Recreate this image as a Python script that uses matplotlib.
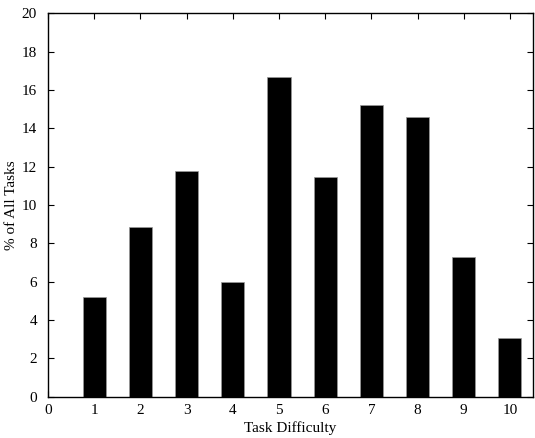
import numpy as np
import matplotlib
matplotlib.use("Agg")
import matplotlib.pyplot as plt

plt.rcParams['font.family'] = ['Liberation Serif', 'DejaVu Serif']

difficulty = [1, 2, 3, 4, 5, 6, 7, 8, 9, 10]
pct_tasks = [5.2, 8.85, 11.8, 6.0, 16.7, 11.45, 15.2, 14.6, 7.3, 3.05]

fig = plt.figure(figsize=(5.35, 4.38), dpi=100)
ax = fig.add_axes([0.0897, 0.0943, 0.9066, 0.8753])

ax.bar(difficulty, pct_tasks, width=0.5, color='black', edgecolor='#999999', linewidth=0.5)

ax.set_xlim(0, 10.5)
ax.set_ylim(0, 20)
ax.set_xticks(range(0, 11))
ax.set_yticks(range(0, 21, 2))
ax.tick_params(direction='in', length=4, width=0.8, labelsize=11,
               top=True, right=True, colors='black')
ax.tick_params(axis='x', pad=5.5)
ax.tick_params(axis='y', pad=8)
for s in ax.spines.values():
    s.set_linewidth(1.0)

ax.set_xlabel('Task Difficulty', fontsize=11, labelpad=3)
ax.set_ylabel('% of All Tasks', fontsize=11, labelpad=2.5)

fig.savefig('out.png', dpi=100)
